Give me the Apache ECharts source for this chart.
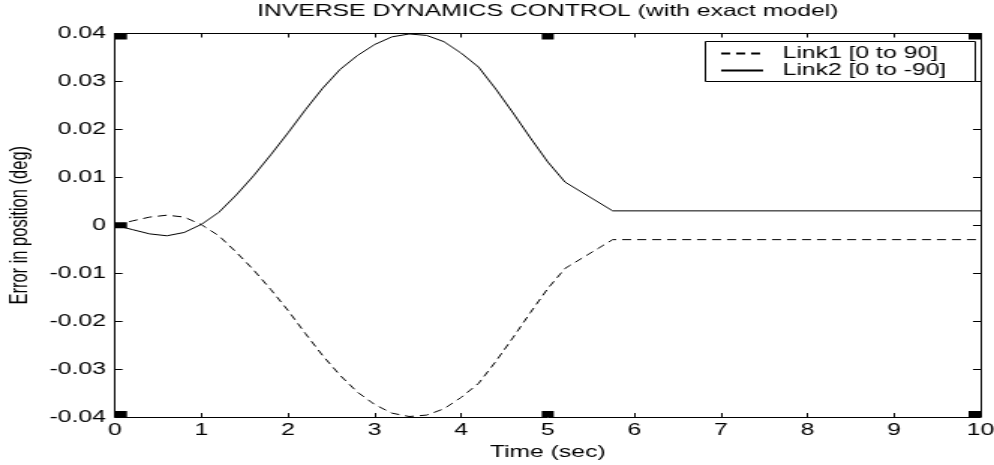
<!DOCTYPE html>
<html>
<head>
<meta charset="utf-8">
<script src="https://cdn.jsdelivr.net/npm/echarts@6/dist/echarts.min.js"></script>
<style>
html,body{margin:0;padding:0;background:#fff;overflow:hidden;}
#chart{width:663px;height:465px;transform:scaleX(1.49925);transform-origin:0 0;}
</style>
</head>
<body>
<div id="chart"></div>
<script>
// ---- data ----
var titleText = 'INVERSE DYNAMICS CONTROL (with exact model)';
var xName = 'Time (sec)';
var yName = 'Error in position (deg)';
var seriesNames = ['Link1 [0 to 90]', 'Link2 [0 to -90]'];
var time = [0, 0.2, 0.4, 0.6, 0.8, 1.0, 1.2, 1.4, 1.6, 1.8, 2.0, 2.2, 2.4, 2.6, 2.8, 3.0,
            3.2, 3.4, 3.6, 3.8, 4.0, 4.2, 4.4, 4.6, 4.8, 5.0, 5.2, 5.75, 10];
var link1 = [0, 0.0009, 0.0017, 0.0021, 0.0017, 0.0001, -0.0022, -0.0056, -0.0093, -0.0134,
             -0.0178, -0.0226, -0.0272, -0.0313, -0.0348, -0.0374, -0.0392, -0.0399, -0.0396,
             -0.0383, -0.0359, -0.0330, -0.0284, -0.0234, -0.0182, -0.0132, -0.0090, -0.0030, -0.0030];
var link2 = [0, -0.0009, -0.0018, -0.0022, -0.0015, 0.0002, 0.0027, 0.0063, 0.0103, 0.0147,
             0.0193, 0.0241, 0.0286, 0.0325, 0.0354, 0.0377, 0.0393, 0.0399, 0.0396,
             0.0383, 0.0359, 0.0330, 0.0284, 0.0234, 0.0182, 0.0132, 0.0090, 0.0030, 0.0030];
var markerX = [0, 5, 10, 0, 5, 10, 0];
var markerY = [0.04, 0.04, 0.04, -0.04, -0.04, -0.04, 0];
var xMin = 0, xMax = 10, xStep = 1;
var yMin = -0.04, yMax = 0.04, yStep = 0.01;

function pairs(xs, ys) { return xs.map(function (x, i) { return [x, ys[i]]; }); }

var FONT = '"Liberation Sans", Arial, sans-serif';
var chart = echarts.init(document.getElementById('chart'), null, {renderer: 'canvas'});

function axisCommon(extra) {
  var base = {
    axisLine: {show: true, onZero: false, lineStyle: {color: '#000', width: 1}},
    axisTick: {show: true, inside: true, lineStyle: {color: '#000', width: 1}},
    splitLine: {show: false}
  };
  for (var k in extra) base[k] = extra[k];
  return base;
}

var option = {
  backgroundColor: '#fff',
  animation: false,
  title: {
    text: titleText, left: 365.3, top: 3, padding: 0, textAlign: 'center',
    textStyle: {fontFamily: FONT, fontSize: 16.5, fontWeight: 'normal', color: '#000'}
  },
  grid: {left: 76.7, right: 9, top: 33.5, bottom: 48, containLabel: false, outerBoundsMode: 'none'},
  graphic: [{
    type: 'rect', left: 470, top: 41, z: 10, silent: true,
    shape: {width: 180, height: 40},
    style: {fill: '#fff', stroke: '#000', lineWidth: 1}
  }],
  legend: {
    orient: 'vertical', left: 480, top: 45, z: 20,
    padding: 0, itemGap: 0, itemWidth: 28, itemHeight: 10,
    itemStyle: {opacity: 0},
    formatter: '{t|{name}}',
    textStyle: {fontFamily: FONT, fontSize: 16.5, color: '#000', lineHeight: 17,
      rich: {t: {fontFamily: FONT, fontSize: 16.5, color: '#000', lineHeight: 17, padding: [0, 0, 0, 8]}}},
    data: seriesNames
  },
  xAxis: [
    axisCommon({type: 'value', position: 'bottom', min: xMin, max: xMax, interval: xStep,
      name: xName, nameLocation: 'middle', nameGap: 27,
      nameTextStyle: {fontFamily: FONT, fontSize: 16.5, color: '#000'},
      axisTick: {show: true, inside: true, length: 4, lineStyle: {color: '#000', width: 1}},
      axisLabel: {fontFamily: FONT, fontSize: 16.5, color: '#000', margin: 5}}),
    axisCommon({type: 'value', position: 'top', min: xMin, max: xMax, interval: xStep,
      axisTick: {show: true, inside: true, length: 4, lineStyle: {color: '#000', width: 1}},
      axisLabel: {show: false}})
  ],
  yAxis: [
    axisCommon({type: 'value', position: 'left', min: yMin, max: yMax, interval: yStep,
      name: yName, nameLocation: 'middle', nameGap: 55, nameRotate: 90,
      nameTextStyle: {fontFamily: FONT, fontSize: 16.5, color: '#000'},
      axisTick: {show: true, inside: true, length: 5, lineStyle: {color: '#000', width: 1}},
      axisLabel: {fontFamily: FONT, fontSize: 16.5, color: '#000', margin: 6,
        formatter: function (v) { return Math.abs(v) < 1e-9 ? '0' : v.toFixed(2); }}}),
    axisCommon({type: 'value', position: 'right', min: yMin, max: yMax, interval: yStep,
      axisTick: {show: true, inside: true, length: 5, lineStyle: {color: '#000', width: 1}},
      axisLabel: {show: false}})
  ],
  series: [
    {
      name: seriesNames[0], type: 'line', xAxisIndex: 0, yAxisIndex: 0,
      data: pairs(time, link1), symbol: 'none', smooth: false,
      lineStyle: {color: '#000', width: 1, type: [6, 4]},
      itemStyle: {color: '#000'}
    },
    {
      name: seriesNames[1], type: 'line', xAxisIndex: 0, yAxisIndex: 0,
      data: pairs(time, link2), symbol: 'none', smooth: false,
      lineStyle: {color: '#000', width: 1, type: 'solid'},
      itemStyle: {color: '#000'}
    },
    {
      name: 'markers', type: 'custom', xAxisIndex: 0, yAxisIndex: 0,
      data: pairs(markerX, markerY), silent: true, z: 5,
      renderItem: function (params, api) {
        var p = api.coord([api.value(0), api.value(1)]);
        var cs = params.coordSys;
        var w = 8, h = 6;
        var x = p[0] - w / 2, y = p[1] - h / 2;
        x = Math.max(cs.x, Math.min(x, cs.x + cs.width - w));
        y = Math.max(cs.y, Math.min(y, cs.y + cs.height - h));
        return {type: 'rect', shape: {x: x, y: y, width: w, height: h}, style: {fill: '#000'}};
      }
    }
  ]
};
chart.setOption(option);
</script>
</body>
</html>
